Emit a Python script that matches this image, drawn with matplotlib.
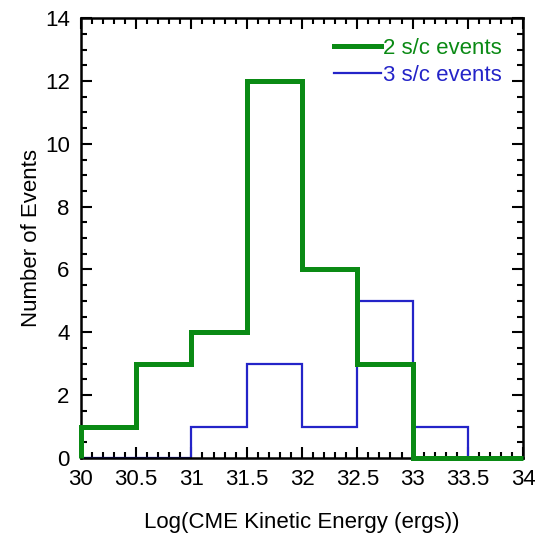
import numpy as np
import matplotlib
matplotlib.use('Agg')
import matplotlib.pyplot as plt
from matplotlib.ticker import MultipleLocator

# bin edges and counts per bin
edges = [30, 30.5, 31, 31.5, 32, 32.5, 33, 33.5, 34]
counts_2sc = [1, 3, 4, 12, 6, 3, 0, 0]
counts_3sc = [0, 0, 1, 3, 1, 5, 1, 0]
xtick_labels = ['30', '30.5', '31', '31.5', '32', '32.5', '33', '33.5', '34']

green = '#0a8a14'
blue = '#2424c8'

plt.rcParams['font.family'] = ['Liberation Sans', 'DejaVu Sans']

fig = plt.figure(figsize=(5.35, 5.35), dpi=100)
ax = fig.add_axes([0.151, 0.144, 0.827, 0.822])

ax.stairs(counts_3sc, edges, color=blue, lw=1.6, label='3 s/c events',
          zorder=2)
ax.stairs(counts_2sc, edges, color=green, lw=3.6, label='2 s/c events',
          zorder=4, clip_on=False)

ax.set_xlim(30, 34)
ax.set_ylim(0, 14)
ax.xaxis.set_major_locator(MultipleLocator(0.5))
ax.xaxis.set_minor_locator(MultipleLocator(0.1))
ax.yaxis.set_major_locator(MultipleLocator(2))
ax.yaxis.set_minor_locator(MultipleLocator(0.5))
ax.set_xticks(edges)
ax.set_xticklabels(xtick_labels)

ax.tick_params(which='both', direction='in', top=True, right=True,
               width=1.5, labelsize=16, colors='black')
ax.tick_params(which='major', length=8)
ax.tick_params(which='minor', length=4)
ax.tick_params(axis='x', which='major', pad=8)
ax.tick_params(axis='y', which='major', pad=8)
for s in ax.spines.values():
    s.set_linewidth(1.8)

ax.set_xlabel('Log(CME Kinetic Energy (ergs))', fontsize=16, labelpad=16)
ax.set_ylabel('Number of Events', fontsize=16, labelpad=2)

handles, labels = ax.get_legend_handles_labels()
leg = ax.legend(handles[::-1], labels[::-1], loc='upper right', frameon=False,
                fontsize=16, handlelength=2.1, handletextpad=0.1,
                labelspacing=0.28, borderpad=0, borderaxespad=0,
                bbox_to_anchor=(502 / 535, 1 - 38 / 535),
                bbox_transform=fig.transFigure, labelcolor='linecolor')

fig.savefig('out.png', dpi=100)
